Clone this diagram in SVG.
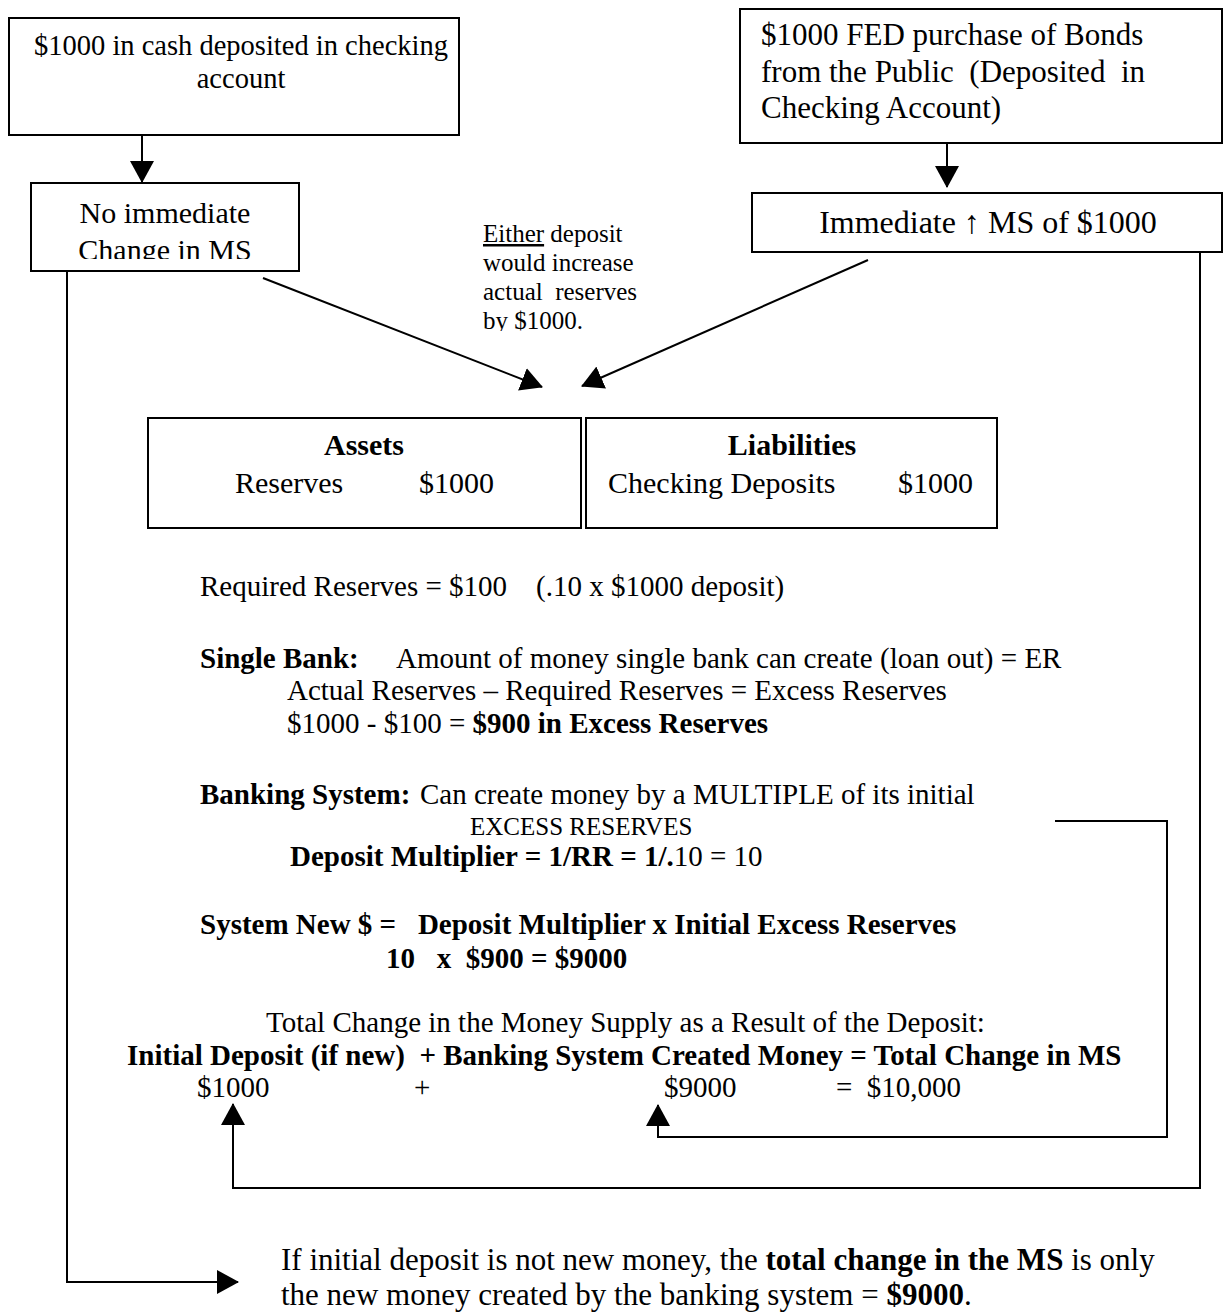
<svg xmlns="http://www.w3.org/2000/svg" width="1224" height="1314" viewBox="0 0 1224 1314">
<style>
text { font-family: "Liberation Serif", "Times New Roman", serif; fill: #000; white-space: pre; }
.t28 { font-size: 28.5px; }
.t29 { font-size: 29px; }
.t30 { font-size: 30px; }
.t31 { font-size: 31px; }
.t32 { font-size: 32px; }
.t25 { font-size: 25px; }
.b { font-weight: bold; }
.box { fill: #fff; stroke: #000; stroke-width: 2; }
.con { fill: none; stroke: #000; stroke-width: 2; }
.mid { text-anchor: middle; }
.end { text-anchor: end; }
</style>
<defs>
<marker id="ah" markerUnits="userSpaceOnUse" markerWidth="22" markerHeight="24" refX="21" refY="12" orient="auto" viewBox="0 0 22 24">
<path d="M0,0 L22,12 L0,24 z" fill="#000"/>
</marker>
<clipPath id="clipChange"><rect x="31" y="183" width="268" height="76"/></clipPath>
<clipPath id="clipEither"><rect x="470" y="200" width="200" height="131"/></clipPath>
</defs>

<g id="connectors">
<line class="con" x1="142" y1="135" x2="142" y2="182" marker-end="url(#ah)"/>
<line class="con" x1="947" y1="143" x2="947" y2="187" marker-end="url(#ah)"/>
<line class="con" x1="263" y1="278" x2="542" y2="387" marker-end="url(#ah)"/>
<line class="con" x1="868" y1="260" x2="582" y2="386" marker-end="url(#ah)"/>
<polyline class="con" points="67,271 67,1282 238,1282" marker-end="url(#ah)"/>
<polyline class="con" points="1200,252 1200,1188 233,1188 233,1104" marker-end="url(#ah)"/>
<polyline class="con" points="1055,821 1167,821 1167,1137 658,1137 658,1105" marker-end="url(#ah)"/>
</g>

<g id="cash-deposit">
<rect class="box" x="9" y="18" width="450" height="117"/>
<text class="t28 mid" x="241" y="55">$1000 in cash deposited in checking</text>
<text class="t28 mid" x="241" y="88">account</text>
</g>

<g id="no-change">
<rect class="box" x="31" y="183" width="268" height="88"/>
<text class="t30 mid" x="165" y="223">No immediate</text>
<text class="t30 mid" x="165" y="260" clip-path="url(#clipChange)">Change in MS</text>
</g>

<g id="fed-purchase">
<rect class="box" x="740" y="9" width="482" height="134"/>
<text class="t31" x="761" y="45">$1000 FED purchase of Bonds</text>
<text class="t31" x="761" y="82" xml:space="preserve">from the Public  (Deposited  in</text>
<text class="t31" x="761" y="118">Checking Account)</text>
</g>

<g id="immediate-ms">
<rect class="box" x="752" y="193" width="470" height="59"/>
<text class="t32 mid" x="988" y="233">Immediate ↑ MS of $1000</text>
</g>

<g id="either-note" clip-path="url(#clipEither)">
<text class="t25" x="483" y="242"><tspan text-decoration="underline">Either</tspan> deposit</text>
<text class="t25" x="483" y="271">would increase</text>
<text class="t25" x="483" y="300" xml:space="preserve">actual  reserves</text>
<text class="t25" x="483" y="329">by $1000.</text>
</g>

<g id="assets">
<rect class="box" x="148" y="418" width="433" height="110"/>
<text class="t30 b mid" x="364" y="455">Assets</text>
<text class="t30" x="235" y="493">Reserves</text>
<text class="t30 end" x="494" y="493">$1000</text>
</g>

<g id="liabilities">
<rect class="box" x="586" y="418" width="411" height="110"/>
<text class="t30 b mid" x="792" y="455">Liabilities</text>
<text class="t30" x="608" y="493">Checking Deposits</text>
<text class="t30 end" x="973" y="493">$1000</text>
</g>

<g id="explanation">
<text class="t29" x="200" y="596" xml:space="preserve">Required Reserves = $100    (.10 x $1000 deposit)</text>
<text class="t29 b" x="200" y="668">Single Bank:</text>
<text class="t29" x="396" y="668">Amount of money single bank can create (loan out) = ER</text>
<text class="t29" x="287" y="700">Actual Reserves – Required Reserves = Excess Reserves</text>
<text class="t29" x="287" y="733">$1000 - $100 = <tspan class="b">$900 in Excess Reserves</tspan></text>
<text class="t29 b" x="200" y="804">Banking System:</text>
<text class="t29" x="420" y="804">Can create money by a MULTIPLE of its initial</text>
<text class="t25" x="470" y="835">EXCESS RESERVES</text>
<text class="t29" x="290" y="866"><tspan class="b">Deposit Multiplier = 1/RR = 1/.</tspan>10 = 10</text>
<text class="t29 b" x="200" y="934" xml:space="preserve">System New $ =   Deposit Multiplier x Initial Excess Reserves</text>
<text class="t29 b" x="386" y="968" xml:space="preserve">10   x  $900 = $9000</text>
<text class="t29" x="266" y="1032">Total Change in the Money Supply as a Result of the Deposit:</text>
<text class="t29 b" x="127" y="1065" xml:space="preserve">Initial Deposit (if new)  + Banking System Created Money = Total Change in MS</text>
<text class="t29" x="197" y="1097">$1000</text>
<text class="t29" x="414" y="1097">+</text>
<text class="t29" x="664" y="1097">$9000</text>
<text class="t29" x="836" y="1097" xml:space="preserve">=  $10,000</text>
</g>

<g id="note-bottom">
<text class="t31" x="281" y="1270">If initial deposit is not new money, the <tspan class="b">total change in the MS</tspan> is only</text>
<text class="t31" x="281" y="1305">the new money created by the banking system = <tspan class="b">$9000</tspan>.</text>
</g>
</svg>
